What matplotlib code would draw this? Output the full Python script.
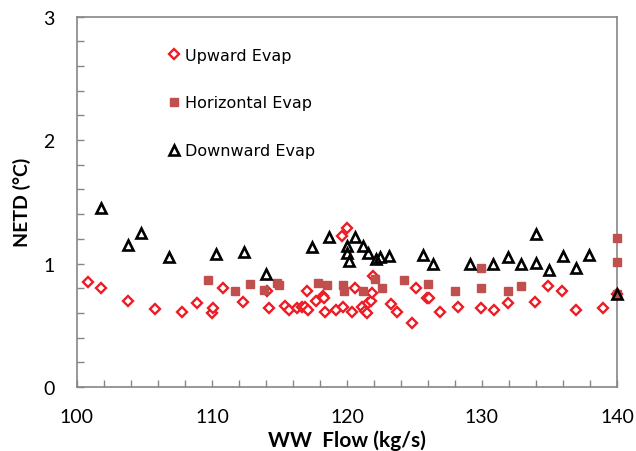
import matplotlib
matplotlib.use('Agg')
import matplotlib.pyplot as plt
from matplotlib.ticker import MultipleLocator

# Upward Evap (open red diamonds)
up_flow = [100.8, 101.75, 103.8, 105.8, 107.8, 108.9, 110.0, 110.05, 110.85, 112.3,
           114.1, 114.25, 115.4, 115.7, 116.3, 116.65, 116.9, 117.06, 117.1, 117.7,
           118.2, 118.3, 118.37, 119.16, 119.6, 119.68, 119.98, 120.35, 120.6, 121.09,
           121.33, 121.46, 121.58, 121.75, 121.83, 121.9, 123.3, 123.7, 124.85, 125.1,
           125.9, 126.1, 126.9, 128.2, 129.93, 130.9, 131.9, 133.9, 134.9, 135.9,
           136.94, 138.99, 140.0]
up_netd = [0.85, 0.80, 0.70, 0.63, 0.605, 0.68, 0.60, 0.637, 0.80, 0.686,
           0.78, 0.64, 0.658, 0.626, 0.64, 0.645, 0.65, 0.775, 0.62, 0.70,
           0.74, 0.72, 0.61, 0.62, 1.22, 0.645, 1.285, 0.61, 0.80, 0.645,
           0.618, 0.597, 0.678, 0.70, 0.76, 0.90, 0.672, 0.605, 0.515, 0.80,
           0.72, 0.72, 0.61, 0.65, 0.64, 0.626, 0.678, 0.686, 0.815, 0.78,
           0.623, 0.64, 0.75]

# Horizontal Evap (filled squares)
hor_flow = [109.73, 111.7, 112.84, 113.85, 114.84, 115.0, 117.83, 118.54, 119.68, 119.8,
            121.16, 122.1, 122.57, 124.24, 126.0, 128.0, 129.93, 129.93, 131.9, 132.9,
            140.0, 140.0, 140.0]
hor_netd = [0.87, 0.777, 0.834, 0.788, 0.842, 0.826, 0.84, 0.826, 0.826, 0.78,
            0.78, 0.874, 0.80, 0.87, 0.834, 0.78, 0.963, 0.80, 0.78, 0.82,
            1.204, 1.01, 0.753]

# Downward Evap (open black triangles)
down_flow = [101.75, 103.75, 104.74, 106.8, 110.3, 112.37, 114.0, 117.4, 118.67, 119.98,
             120.02, 120.15, 120.6, 121.16, 121.58, 122.15, 122.44, 123.13, 125.6, 126.4,
             129.1, 130.84, 131.9, 132.9, 133.98, 133.98, 135.0, 135.98, 136.96, 137.95,
             140.0]
down_netd = [1.45, 1.15, 1.245, 1.05, 1.077, 1.096, 0.915, 1.13, 1.217, 1.14,
             1.085, 1.023, 1.217, 1.14, 1.083, 1.036, 1.05, 1.058, 1.071, 0.996,
             0.996, 0.996, 1.055, 0.996, 1.239, 1.004, 0.947, 1.058, 0.963, 1.071,
             0.753]

fig = plt.figure(figsize=(6.36, 4.52), dpi=100)
ax = fig.add_axes([0.121, 0.1416, 0.849, 0.8195])

ax.plot(up_flow, up_netd, linestyle='none', marker='D', ms=4.6, mew=1.7,
        mec='#EE1C25', mfc='white', label='Upward Evap', clip_on=False, zorder=3)
ax.plot(hor_flow, hor_netd, linestyle='none', marker='s', ms=5.8,
        mec='#C0504D', mfc='#C0504D', label='Horizontal Evap', clip_on=False, zorder=3)
ax.plot(down_flow, down_netd, linestyle='none', marker='^', ms=7.5, mew=1.9,
        mec='black', mfc='none', label='Downward Evap', clip_on=False, zorder=4)

ax.set_xlim(100, 140)
ax.set_ylim(0, 3)
ax.xaxis.set_major_locator(MultipleLocator(10))
ax.xaxis.set_minor_locator(MultipleLocator(2))
ax.yaxis.set_major_locator(MultipleLocator(1))
ax.yaxis.set_minor_locator(MultipleLocator(0.2))
ax.tick_params(which='both', direction='in', length=5, width=1, color='#868686')
ax.tick_params(axis='x', which='major', labelsize=14, pad=15)
ax.tick_params(axis='y', which='major', labelsize=14, pad=16)
for lab in ax.get_xticklabels() + ax.get_yticklabels():
    lab.set_family('Lato')

for s in ax.spines.values():
    s.set_color('#868686')
    s.set_linewidth(1.2)

ax.set_xlabel('WW  Flow (kg/s)', fontsize=15, fontweight='bold', family='Lato', labelpad=3)
ax.set_ylabel('NETD (°C)', fontsize=14, fontweight='bold', family='Lato', labelpad=9)

leg = ax.legend(loc='upper left', bbox_to_anchor=(0.145, 0.955), frameon=False,
                labelspacing=2.05, handlelength=0.5, handletextpad=0.45,
                prop={'family': 'DejaVu Sans', 'size': 11.5})

fig.savefig('out.png', dpi=100)
